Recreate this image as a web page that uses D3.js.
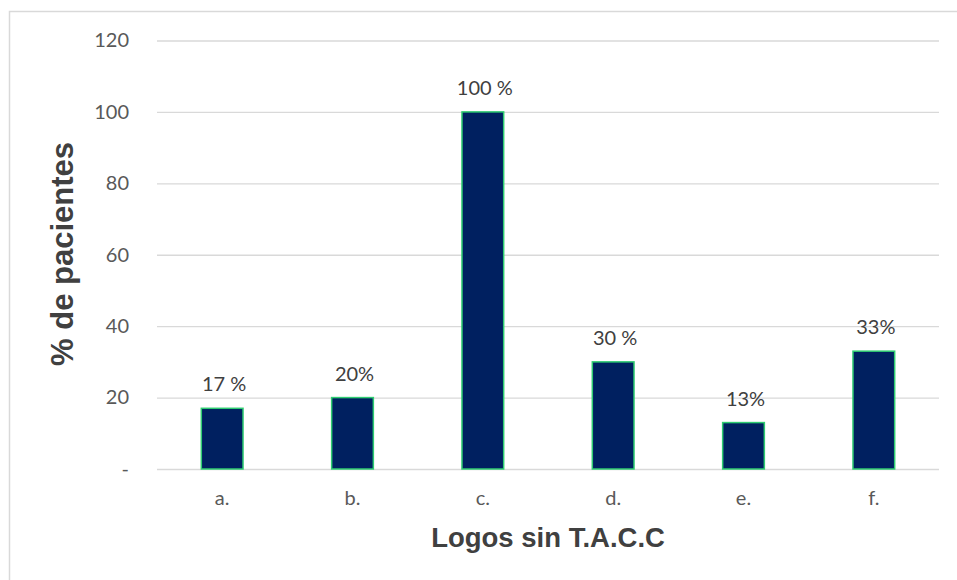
<!DOCTYPE html>
<html>
<head>
<meta charset="utf-8">
<script src="https://cdn.jsdelivr.net/npm/d3@7/dist/d3.min.js"></script>
<style>
  html, body { margin: 0; padding: 0; background: #ffffff; }
  svg { display: block; }
</style>
</head>
<body>
<svg id="chart" width="957" height="580"></svg>
<script>
// Share of patients per logo without T.A.C.C
const categories = ["a.", "b.", "c.", "d.", "e.", "f."];
const values = [17, 20, 100, 30, 13, 33];
const valueLabels = ["17 %", "20%", "100 %", "30 %", "13%", "33%"];
const tickValues = [0, 20, 40, 60, 80, 100, 120];
const tickLabels = ["-", "20", "40", "60", "80", "100", "120"];
const xTitle = "Logos sin T.A.C.C";
const yTitle = "% de pacientes";

const svg = d3.select("#chart");
const W = 957, H = 580;
const margin = { left: 157, right: 18, top: 40.5, bottom: 111 };
const plotW = W - margin.left - margin.right;
const plotH = H - margin.top - margin.bottom;

// chart frame (left and top edges visible)
svg.append("path")
  .attr("d", `M9.5,${H} V11.5 H${W}`)
  .attr("fill", "none")
  .attr("stroke", "#d9d9d9")
  .attr("stroke-width", 1.5);

const x = d3.scaleBand().domain(categories).range([0, plotW]).paddingInner(0.68).paddingOuter(0.34);
const y = d3.scaleLinear().domain([0, 120]).range([plotH, 0]);

const g = svg.append("g").attr("transform", `translate(${margin.left},${margin.top})`);

// horizontal gridlines + tick labels
const yAxis = d3.axisLeft(y)
  .tickValues(tickValues)
  .tickSize(-plotW)
  .tickPadding(28)
  .tickFormat((d, i) => tickLabels[i]);
const ya = g.append("g").call(yAxis);
ya.select(".domain").remove();
ya.selectAll(".tick line").attr("stroke", "#d9d9d9").attr("stroke-width", 1.3);
ya.selectAll(".tick text")
  .attr("fill", "#595959")
  .style("font-family", "Lato, 'Open Sans', sans-serif")
  .style("font-size", "20px");

// category labels
const xAxis = d3.axisBottom(x).tickSize(0).tickPadding(22);
const xa = g.append("g").attr("transform", `translate(0,${plotH})`).call(xAxis);
xa.select(".domain").remove();
xa.selectAll(".tick text")
  .attr("fill", "#595959")
  .style("font-family", "Lato, 'Open Sans', sans-serif")
  .style("font-size", "20px");

// bars
g.selectAll("rect.bar")
  .data(values)
  .join("rect")
  .attr("class", "bar")
  .attr("x", (d, i) => x(categories[i]))
  .attr("y", d => y(d))
  .attr("width", x.bandwidth())
  .attr("height", d => plotH - y(d))
  .attr("fill", "#002060")
  .attr("stroke", "#2ecc71")
  .attr("stroke-width", 1.5);

// value labels
g.selectAll("text.vlabel")
  .data(values)
  .join("text")
  .attr("class", "vlabel")
  .attr("x", (d, i) => x(categories[i]) + x.bandwidth() / 2 + 2)
  .attr("y", d => y(d) - 17)
  .attr("text-anchor", "middle")
  .attr("fill", "#404040")
  .style("font-family", "Lato, 'Open Sans', sans-serif")
  .style("font-size", "20px")
  .text((d, i) => valueLabels[i]);

// axis titles
svg.append("text")
  .attr("x", 548)
  .attr("y", 547)
  .attr("text-anchor", "middle")
  .attr("fill", "#404040")
  .style("font-family", "'Liberation Sans', Arial, sans-serif")
  .style("font-weight", "bold")
  .style("font-size", "27.5px")
  .text(xTitle);

svg.append("text")
  .attr("transform", "translate(72.5,254) rotate(-90)")
  .attr("text-anchor", "middle")
  .attr("fill", "#404040")
  .style("font-family", "'Liberation Sans', Arial, sans-serif")
  .style("font-weight", "bold")
  .style("font-size", "31px")
  .text(yTitle);
</script>
</body>
</html>
